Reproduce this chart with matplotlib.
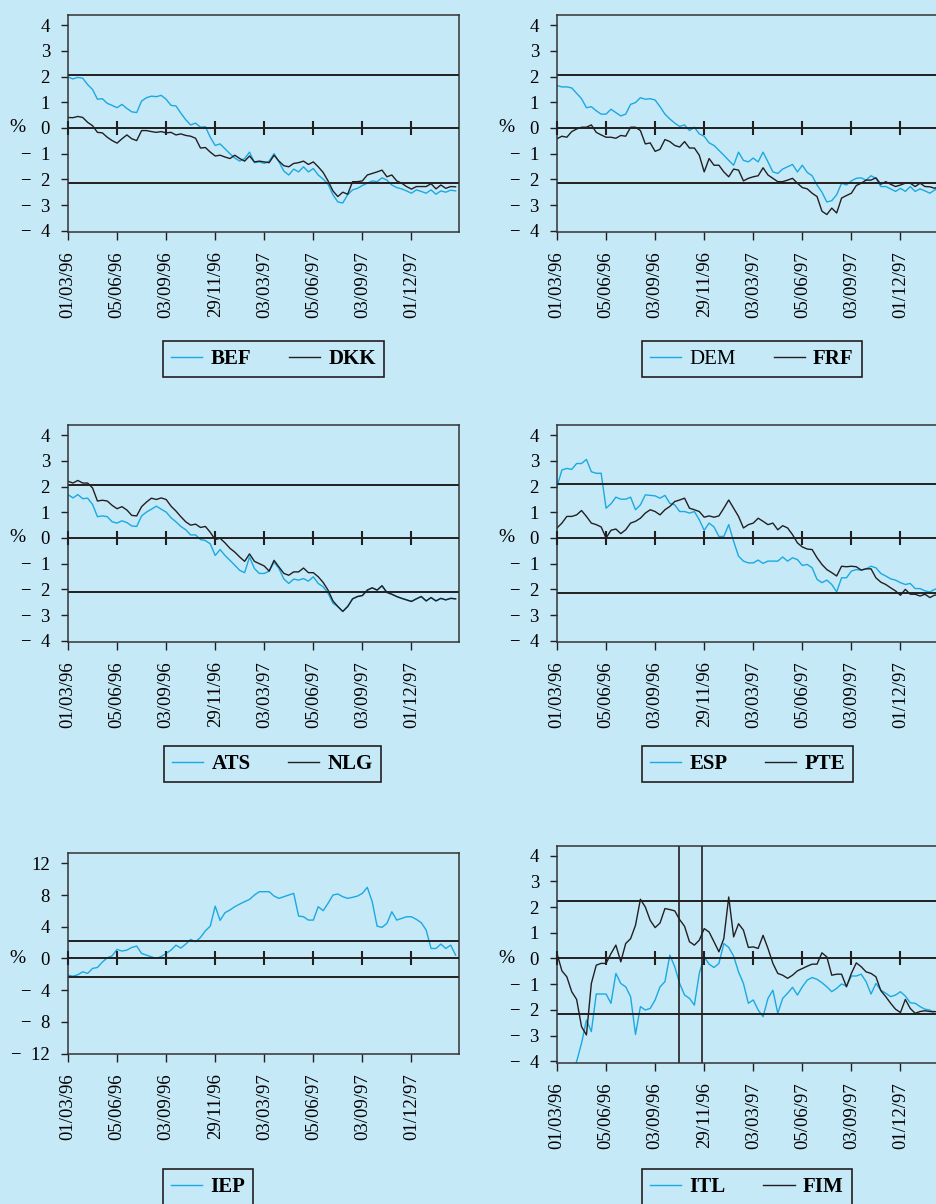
import matplotlib.pyplot as plt
import numpy as np

plt.rcParams["font.family"] = ["Liberation Serif", "DejaVu Serif"]

W, H = 937, 1204
BG = "#c6e9f8"
BLUE = "#1aa9e1"
DARK = "#231f20"

# one reading every 6.5 trading days, starting 01/03/96
STEP = 6.5
tick_days = np.arange(8) * 65
tick_labels = ["01/03/96", "05/06/96", "03/09/96", "29/11/96",
               "03/03/97", "05/06/97", "03/09/97", "01/12/97"]

# % deviation
bef = [1.99, 1.91, 1.97, 1.94, 1.69, 1.50, 1.12, 1.14, 0.96, 0.88,
       0.79, 0.92, 0.76, 0.63, 0.60, 1.05, 1.18, 1.24, 1.22, 1.27,
       1.12, 0.88, 0.86, 0.58, 0.32, 0.12, 0.19, 0.03, 0.05, -0.36,
       -0.68, -0.62, -0.81, -1.00, -1.17, -1.29, -1.19, -0.94, -1.35, -1.32,
       -1.38, -1.29, -1.00, -1.32, -1.68, -1.83, -1.60, -1.71, -1.51, -1.71,
       -1.58, -1.83, -1.99, -2.19, -2.60, -2.88, -2.92, -2.60, -2.41, -2.35,
       -2.24, -2.15, -2.06, -2.09, -1.94, -2.03, -2.22, -2.32, -2.37, -2.45,
       -2.54, -2.41, -2.47, -2.54, -2.41, -2.58, -2.45, -2.50, -2.42, -2.45]
dkk = [0.41, 0.40, 0.45, 0.41, 0.22, 0.09, -0.17, -0.19, -0.36, -0.49,
       -0.59, -0.42, -0.27, -0.42, -0.49, -0.10, -0.10, -0.14, -0.17, -0.14,
       -0.19, -0.17, -0.27, -0.23, -0.29, -0.32, -0.40, -0.78, -0.76, -0.94,
       -1.09, -1.06, -1.13, -1.19, -1.06, -1.19, -1.29, -1.09, -1.32, -1.29,
       -1.32, -1.35, -1.06, -1.29, -1.47, -1.51, -1.38, -1.35, -1.29, -1.42,
       -1.32, -1.51, -1.73, -2.06, -2.45, -2.67, -2.50, -2.58, -2.09, -2.09,
       -2.06, -1.83, -1.77, -1.71, -1.64, -1.90, -1.83, -2.06, -2.15, -2.28,
       -2.38, -2.28, -2.28, -2.28, -2.17, -2.37, -2.22, -2.35, -2.28, -2.29]
dem = [1.65, 1.60, 1.60, 1.56, 1.35, 1.14, 0.79, 0.83, 0.67, 0.54,
       0.54, 0.73, 0.60, 0.47, 0.54, 0.92, 0.99, 1.18, 1.12, 1.14,
       1.09, 0.83, 0.54, 0.35, 0.19, 0.06, 0.12, -0.10, 0.03, -0.23,
       -0.32, -0.58, -0.68, -0.87, -1.06, -1.26, -1.45, -0.94, -1.26, -1.32,
       -1.17, -1.32, -0.94, -1.32, -1.71, -1.77, -1.60, -1.51, -1.42, -1.71,
       -1.45, -1.73, -1.86, -2.22, -2.50, -2.88, -2.83, -2.60, -2.15, -2.22,
       -2.06, -1.96, -1.94, -2.03, -1.86, -1.96, -2.28, -2.28, -2.37, -2.47,
       -2.35, -2.47, -2.28, -2.47, -2.37, -2.45, -2.54, -2.41, -2.38]
frf = [-0.42, -0.32, -0.36, -0.14, -0.04, 0.03, 0.03, 0.12, -0.17, -0.27,
       -0.36, -0.36, -0.40, -0.29, -0.32, 0.03, 0.03, -0.10, -0.62, -0.58,
       -0.91, -0.83, -0.45, -0.53, -0.68, -0.74, -0.53, -0.78, -0.78, -1.06,
       -1.71, -1.19, -1.45, -1.45, -1.71, -1.90, -1.60, -1.64, -2.06, -1.96,
       -1.90, -1.86, -1.55, -1.83, -1.96, -2.09, -2.09, -2.03, -1.96, -2.15,
       -2.32, -2.37, -2.54, -2.67, -3.24, -3.37, -3.12, -3.31, -2.73, -2.63,
       -2.54, -2.24, -2.15, -2.03, -2.03, -1.94, -2.19, -2.09, -2.19, -2.28,
       -2.22, -2.15, -2.15, -2.28, -2.15, -2.28, -2.29, -2.35, -2.25]
ats = [1.69, 1.56, 1.69, 1.53, 1.55, 1.31, 0.83, 0.86, 0.83, 0.63,
       0.58, 0.67, 0.60, 0.47, 0.45, 0.86, 1.01, 1.12, 1.24, 1.12,
       1.01, 0.79, 0.63, 0.45, 0.32, 0.12, 0.12, -0.06, -0.10, -0.23,
       -0.68, -0.45, -0.68, -0.87, -1.06, -1.26, -1.35, -0.74, -1.19, -1.38,
       -1.38, -1.29, -0.94, -1.19, -1.60, -1.77, -1.60, -1.64, -1.58, -1.68,
       -1.51, -1.77, -1.90, -2.15, -2.54, -2.67, -2.86, -2.67, -2.37, -2.28,
       -2.24, -2.03, -1.94, -2.03, -1.86, -2.12, -2.19, -2.28, -2.35, -2.41,
       -2.47, -2.37, -2.28, -2.45, -2.32, -2.45, -2.35, -2.41, -2.35, -2.37]
nlg = [2.21, 2.14, 2.24, 2.14, 2.14, 1.95, 1.44, 1.47, 1.44, 1.27,
       1.14, 1.22, 1.09, 0.88, 0.86, 1.22, 1.40, 1.55, 1.50, 1.56,
       1.50, 1.24, 1.05, 0.83, 0.63, 0.50, 0.54, 0.41, 0.45, 0.22,
       -0.06, -0.01, -0.19, -0.40, -0.55, -0.74, -0.91, -0.62, -0.91, -1.00,
       -1.09, -1.29, -0.87, -1.13, -1.38, -1.45, -1.32, -1.32, -1.17, -1.35,
       -1.35, -1.51, -1.73, -2.03, -2.45, -2.67, -2.86, -2.67, -2.37, -2.28,
       -2.24, -2.03, -1.94, -2.03, -1.86, -2.12, -2.19, -2.28, -2.35, -2.41,
       -2.47, -2.37, -2.28, -2.45, -2.32, -2.45, -2.35, -2.41, -2.35, -2.37]
esp = [2.00, 2.65, 2.71, 2.67, 2.90, 2.90, 3.06, 2.58, 2.52, 2.52,
       1.16, 1.33, 1.59, 1.51, 1.51, 1.59, 1.10, 1.29, 1.68, 1.66,
       1.64, 1.55, 1.66, 1.35, 1.29, 1.03, 1.03, 0.97, 1.03, 0.71,
       0.30, 0.58, 0.43, 0.06, 0.06, 0.52, -0.13, -0.71, -0.90, -0.97,
       -0.97, -0.86, -0.99, -0.90, -0.90, -0.90, -0.74, -0.90, -0.77, -0.84,
       -1.07, -1.03, -1.16, -1.61, -1.74, -1.64, -1.81, -2.10, -1.55, -1.55,
       -1.29, -1.23, -1.25, -1.20, -1.10, -1.16, -1.38, -1.48, -1.59, -1.64,
       -1.74, -1.81, -1.77, -1.97, -1.97, -2.06, -2.10, -2.00, -1.95]
pte = [0.39, 0.58, 0.84, 0.84, 0.90, 1.07, 0.84, 0.58, 0.52, 0.43,
       0.00, 0.30, 0.35, 0.17, 0.32, 0.58, 0.65, 0.77, 0.97, 1.10,
       1.03, 0.90, 1.10, 1.23, 1.42, 1.48, 1.55, 1.16, 1.10, 1.03,
       0.81, 0.86, 0.81, 0.86, 1.16, 1.48, 1.16, 0.84, 0.39, 0.52,
       0.58, 0.77, 0.65, 0.52, 0.58, 0.32, 0.48, 0.39, 0.13, -0.19,
       -0.35, -0.43, -0.45, -0.77, -1.03, -1.23, -1.35, -1.48, -1.10, -1.12,
       -1.10, -1.12, -1.25, -1.20, -1.20, -1.55, -1.72, -1.81, -1.94, -2.06,
       -2.23, -2.00, -2.19, -2.19, -2.26, -2.19, -2.32, -2.22, -2.25]
iep = [-2.11, -2.23, -2.06, -1.68, -1.89, -1.26, -1.14, -0.46, 0.08, 0.34,
       1.14, 0.93, 1.05, 1.39, 1.56, 0.63, 0.42, 0.21, 0.00, 0.25,
       0.63, 1.05, 1.68, 1.31, 1.81, 2.40, 2.11, 2.65, 3.49, 4.08,
       6.60, 4.80, 5.77, 6.11, 6.53, 6.86, 7.16, 7.45, 8.00, 8.42,
       8.42, 8.42, 7.87, 7.58, 7.79, 8.00, 8.21, 5.35, 5.26, 4.84,
       4.84, 6.53, 6.02, 6.95, 8.00, 8.13, 7.79, 7.58, 7.71, 7.87,
       8.21, 8.97, 7.16, 4.08, 3.92, 4.42, 5.89, 4.84, 5.05, 5.26,
       5.26, 4.93, 4.51, 3.58, 1.26, 1.26, 1.81, 1.26, 1.68, 0.42]
itl = [-5.00, -4.90, -4.70, -4.50, -4.00, -3.29, -2.39, -2.84, -1.38, -1.38,
       -1.38, -1.74, -0.58, -0.97, -1.10, -1.48, -2.95, -1.87, -2.00, -1.94,
       -1.61, -1.10, -0.90, 0.13, -0.32, -0.97, -1.42, -1.55, -1.81, -0.58,
       0.06, -0.22, -0.35, -0.19, 0.58, 0.43, 0.09, -0.52, -0.97, -1.74,
       -1.61, -2.00, -2.26, -1.55, -1.23, -2.13, -1.55, -1.35, -1.12, -1.42,
       -1.10, -0.84, -0.74, -0.81, -0.94, -1.10, -1.29, -1.16, -0.99, -1.07,
       -0.68, -0.68, -0.61, -0.90, -1.38, -0.97, -1.23, -1.35, -1.48, -1.42,
       -1.29, -1.46, -1.72, -1.74, -1.87, -1.97, -2.00, -2.15, -2.20]
fim = [0.19, -0.48, -0.71, -1.29, -1.59, -2.65, -2.97, -0.97, -0.26, -0.19,
       -0.19, 0.19, 0.52, -0.13, 0.58, 0.77, 1.29, 2.30, 2.00, 1.48,
       1.20, 1.38, 1.94, 1.90, 1.85, 1.51, 1.25, 0.65, 0.52, 0.71,
       1.16, 1.03, 0.65, 0.26, 0.77, 2.39, 0.84, 1.35, 1.10, 0.43,
       0.45, 0.39, 0.90, 0.39, -0.19, -0.58, -0.65, -0.77, -0.65, -0.48,
       -0.39, -0.30, -0.22, -0.22, 0.22, 0.06, -0.65, -0.61, -0.61, -1.10,
       -0.58, -0.17, -0.32, -0.52, -0.58, -0.71, -1.25, -1.48, -1.74, -1.97,
       -2.10, -1.59, -1.94, -2.13, -2.06, -2.03, -2.06, -2.06, -2.10]

# band lines per panel and the two ERM entry days (FIM, ITL)
bands = [(2.08, -2.13), (2.08, -2.13), (2.08, -2.10),
         (2.10, -2.13), (2.25, -2.30), (2.22, -2.14)]
erm_entry_days = [162, 192]

small_ticks = [-4, -3, -2, -1, 0, 1, 2, 3, 4]
big_ticks = [-12, -8, -4, 0, 4, 8, 12]

panels = [
    # names, data, bold legend text, axes box px (l, t, r, b), legend corner px, ylim, yticks
    (["BEF", "DKK"], [bef, dkk], [True, True], (68, 15, 459, 232), (163, 341), (-4.05, 4.4), small_ticks),
    (["DEM", "FRF"], [dem, frf], [False, True], (557, 15, 948, 232), (642, 341), (-4.05, 4.4), small_ticks),
    (["ATS", "NLG"], [ats, nlg], [True, True], (68, 425, 459, 642), (164, 746), (-4.05, 4.4), small_ticks),
    (["ESP", "PTE"], [esp, pte], [True, True], (557, 425, 948, 642), (642, 746), (-4.05, 4.4), small_ticks),
    (["IEP"], [iep], [True], (68, 853, 459, 1054), (163, 1169), (-12.05, 13.3), big_ticks),
    (["ITL", "FIM"], [itl, fim], [True, True], (557, 846, 948, 1063), (642, 1169), (-4.06, 4.37), small_ticks),
]


def fmt(v):
    return f"\u2212\u2002{-v}" if v < 0 else f"{v}"


fig = plt.figure(figsize=(W / 100, H / 100), dpi=100, facecolor=BG)

for i, (names, data, bold, box, corner, ylim, yticks) in enumerate(panels):
    l, t, r, b = box
    ax = fig.add_axes([l / W, 1 - b / H, (r - l) / W, (b - t) / H])
    ax.set_facecolor(BG)

    for name, vals, color in zip(names, data, [BLUE, DARK]):
        ax.plot(np.arange(len(vals)) * STEP, vals, color=color, lw=1.0, label=name)
    for band in bands[i]:
        ax.axhline(band, color=DARK, lw=1.4)
    if names[0] == "ITL":
        for d in erm_entry_days:
            ax.axvline(d, color=DARK, lw=1.2)

    # x axis crossing at zero, with ticks through it
    ax.axhline(0, color=DARK, lw=1.4, zorder=3)
    ax.plot(tick_days, np.zeros(len(tick_days)), ls="none", marker="|",
            ms=10, mew=1.5, color=DARK, clip_on=False, zorder=3)

    ax.set_xlim(0, 518)
    ax.set_ylim(*ylim)
    ax.set_xticks(tick_days, tick_labels, rotation=90)
    ax.set_yticks(yticks, [fmt(v) for v in yticks])
    ax.tick_params(axis="x", length=6, pad=8, labelsize=13.5, width=1, color=DARK)
    ax.tick_params(axis="y", length=5, pad=8, labelsize=13.5, width=1, color=DARK)
    for s in ax.spines.values():
        s.set_color("#333333")
        s.set_linewidth(1.1)

    ax.text(-0.129, 0, "%", transform=ax.get_yaxis_transform(),
            ha="center", va="center", fontsize=14)

    leg = ax.legend(loc="upper left", bbox_to_anchor=(corner[0] / W, 1 - corner[1] / H),
                    bbox_transform=fig.transFigure, ncol=len(names), fancybox=False,
                    edgecolor=DARK, facecolor=BG, framealpha=1, fontsize=15,
                    handlelength=1.5, handletextpad=0.4, columnspacing=1.8,
                    borderpad=0.38, borderaxespad=0)
    leg.get_frame().set_linewidth(1.2)
    for txt, bw in zip(leg.get_texts(), bold):
        txt.set_fontweight("bold" if bw else "normal")

fig.savefig("out.png", dpi=100, facecolor=BG)
